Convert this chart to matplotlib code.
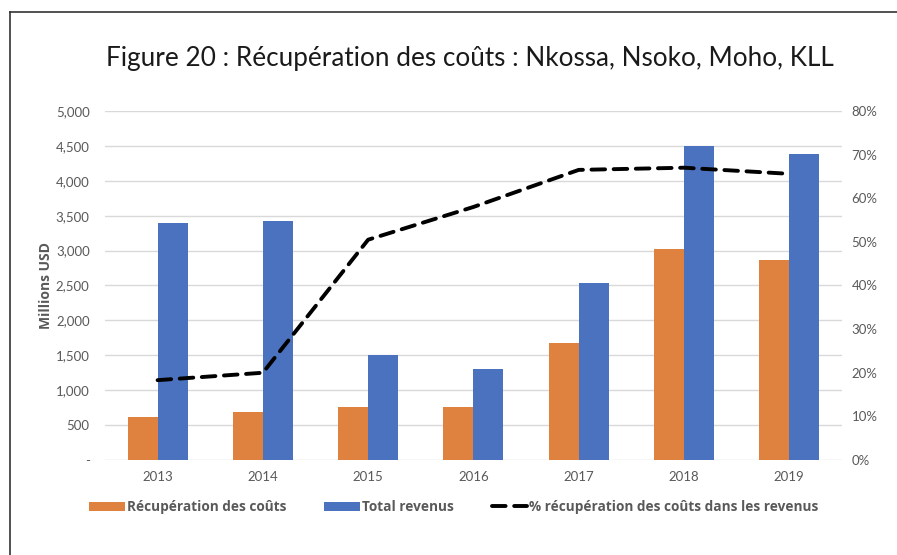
import numpy as np
import matplotlib.pyplot as plt
from matplotlib.lines import Line2D

plt.rcParams['font.family'] = ['Lato', 'DejaVu Sans']

# Values
years = ['2013', '2014', '2015', '2016', '2017', '2018', '2019']
recup_couts = [620, 683, 755, 755, 1680, 3027, 2870]
total_revenus = [3400, 3420, 1500, 1308, 2531, 4500, 4380]
pct_recup = [0.183, 0.200, 0.505, 0.580, 0.665, 0.670, 0.656]

orange = '#E0823F'
blue = '#4A72BF'
gray = '#595959'
bold_font = ['Open Sans', 'DejaVu Sans']

fig = plt.figure(figsize=(8.97, 5.55), dpi=100)
ax = fig.add_axes([0.117, 0.1712, 0.8216, 0.6288])

x = np.arange(len(years))
w = 0.285
ax.bar(x - w / 2, recup_couts, w, color=orange, label='Récupération des coûts', zorder=2)
ax.bar(x + w / 2, total_revenus, w, color=blue, label='Total revenus', zorder=2)

ax.set_xlim(-0.5, len(years) - 0.5)
ax.set_ylim(0, 5000)
ax.set_yticks(np.arange(0, 5001, 500))
ax.set_yticklabels(['-'] + ['{:,}'.format(v) for v in range(500, 5001, 500)])
ax.set_xticks(x)
ax.set_xticklabels(years)
ax.grid(axis='y', color='#D9D9D9', linewidth=1, zorder=0)
ax.set_axisbelow(True)
for s in ax.spines.values():
    s.set_visible(False)
ax.tick_params(length=0, labelsize=9.5, labelcolor=gray)
ax.tick_params(axis='y', pad=11)
ax.tick_params(axis='x', pad=8)
ax.set_ylabel('Millions USD', fontsize=10, fontweight='bold', color=gray,
              labelpad=2, family=bold_font)

ax2 = ax.twinx()
ax2.plot(x, pct_recup, color='black', linewidth=2.8, dashes=(3.5, 2.2),
         dash_capstyle='round', label='% récupération des coûts dans les revenus', zorder=3)
ax2.set_ylim(0, 0.8)
ax2.set_yticks(np.arange(0, 0.81, 0.1))
ax2.set_yticklabels(['{:d}%'.format(int(round(v * 100))) for v in np.arange(0, 0.81, 0.1)])
for s in ax2.spines.values():
    s.set_visible(False)
ax2.tick_params(length=0, labelsize=9.5, labelcolor=gray, pad=7)

fig.text(0.524, 0.894, 'Figure 20 : Récupération des coûts : Nkossa, Nsoko, Moho, KLL',
         ha='center', va='center', fontsize=18.8, color='#1a1a1a')

h1, l1 = ax.get_legend_handles_labels()
h2, l2 = ax2.get_legend_handles_labels()
leg = fig.legend(h1 + h2, l1 + l2, loc='center', bbox_to_anchor=(0.506, 0.0865), ncol=3,
                 frameon=False, handlelength=2.6, handleheight=0.6, columnspacing=2.8,
                 handletextpad=0.15, prop={'size': 9.8, 'weight': 'bold', 'family': bold_font})
for t in leg.get_texts():
    t.set_color(gray)

# frame lines around the figure (left and top edges)
fig.add_artist(Line2D([10 / 897, 10 / 897], [0, 1 - 12 / 555], color='#333333', linewidth=1.2))
fig.add_artist(Line2D([10 / 897, 1], [1 - 12 / 555, 1 - 12 / 555], color='#333333', linewidth=1.2))

plt.savefig('out.png', dpi=100)
